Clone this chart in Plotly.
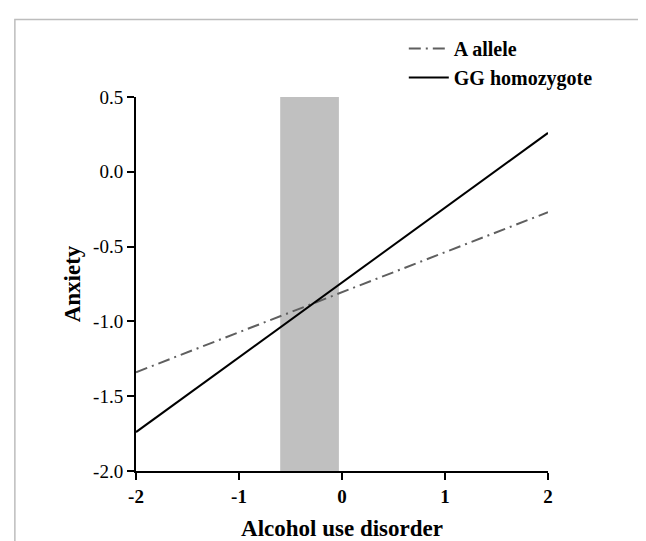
import plotly.graph_objects as go

# ---- data ----
x_vals = [-2, 2]
a_allele = [-1.34, -0.27]
gg_homozygote = [-1.74, 0.26]
shade_range = [-0.60, -0.03]
y_ticks = [0.5, 0.0, -0.5, -1.0, -1.5, -2.0]
y_ticklabels = ["0.5", "0.0", "-0.5", "-1.0", "-1.5", "-2.0"]
x_ticks = [-2, -1, 0, 1, 2]
x_ticklabels = ["-2", "-1", "0", "1", "2"]
series_names = ["A allele", "GG homozygote"]

FONT = "Liberation Serif, Times New Roman, serif"

fig = go.Figure()
fig.add_trace(go.Scatter(x=x_vals, y=a_allele, mode="lines", name=series_names[0],
                         line=dict(color="#5f5f5f", width=2, dash="12px,5px,2px,5px")))
fig.add_trace(go.Scatter(x=x_vals, y=gg_homozygote, mode="lines", name=series_names[1],
                         line=dict(color="#000000", width=2)))

fig.add_shape(type="rect", xref="x", yref="y", x0=shade_range[0], x1=shade_range[1],
              y0=min(y_ticks), y1=max(y_ticks), fillcolor="#c0c0c0",
              line=dict(width=0), layer="below")

# outer frame
fig.add_shape(type="rect", xref="paper", yref="paper", x0=-0.294, x1=1.24, y0=-0.3, y1=1.207,
              line=dict(color="#bdbdbd", width=1.5), fillcolor="rgba(0,0,0,0)")

fig.update_layout(
    width=646, height=541,
    margin=dict(l=128, r=106, t=88.5, b=63.5),
    paper_bgcolor="white", plot_bgcolor="white",
    font=dict(family=FONT, color="black"),
    showlegend=True,
    legend=dict(x=0.65, y=1.182, xanchor="left", yanchor="top",
                font=dict(family=FONT, size=20, color="black", weight="bold"),
                bgcolor="rgba(0,0,0,0)", itemwidth=40, tracegroupgap=0),
    xaxis=dict(range=[-2, 2], tickvals=x_ticks, ticktext=x_ticklabels,
               showgrid=False, zeroline=False, showline=True, linecolor="black", linewidth=2,
               ticks="outside", ticklen=7, tickwidth=2, tickcolor="black",
               tickfont=dict(family=FONT, size=19, color="black", weight="bold"),
               title=dict(text="<b>Alcohol use disorder</b>", font=dict(family=FONT, size=23, color="black"),
                          standoff=14)),
    yaxis=dict(range=[-2, 0.5], tickvals=y_ticks, ticktext=y_ticklabels,
               showgrid=False, zeroline=False, showline=True, linecolor="black", linewidth=2,
               ticks="outside", ticklen=7, tickwidth=2, tickcolor="black",
               tickfont=dict(family=FONT, size=19, color="black"),
               title=dict(text="<b>Anxiety</b>", font=dict(family=FONT, size=23, color="black"),
                          standoff=6)),
)

fig.write_html("out.html")
